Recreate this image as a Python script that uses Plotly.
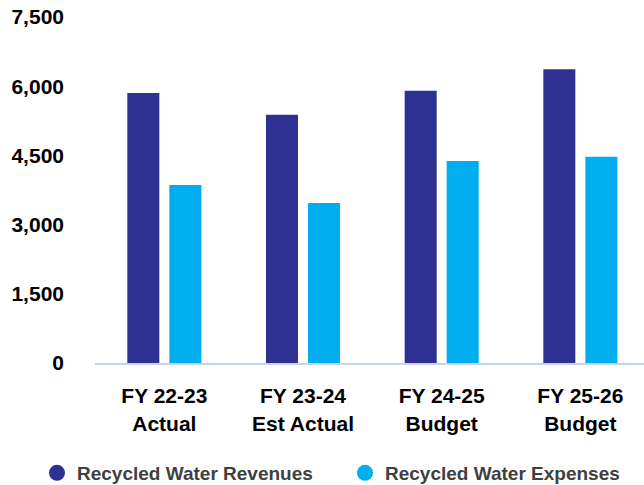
import plotly.graph_objects as go

# Fiscal-year categories (two-line tick labels)
categories = ["FY 22-23<br>Actual", "FY 23-24<br>Est Actual", "FY 24-25<br>Budget", "FY 25-26<br>Budget"]

# Recycled water figures ($ thousands)
revenues = [5850, 5380, 5900, 6370]
expenses = [3860, 3470, 4380, 4470]

y_ticks = [0, 1500, 3000, 4500, 6000, 7500]

NAVY = "#2E3192"
CYAN = "#00AEEF"
FONT = "Liberation Sans, Arial, sans-serif"

fig = go.Figure()

fig.add_trace(go.Bar(
    x=categories, y=revenues, name="Recycled Water Revenues",
    marker=dict(color=NAVY, line=dict(width=0)), showlegend=False,
))
fig.add_trace(go.Bar(
    x=categories, y=expenses, name="Recycled Water Expenses",
    marker=dict(color=CYAN, line=dict(width=0)), showlegend=False,
))

# Circle markers for the legend entries, one legend box per series
for name, color, leg in [("Recycled Water Revenues", NAVY, "legend"),
                         ("Recycled Water Expenses", CYAN, "legend2")]:
    fig.add_trace(go.Scatter(
        x=[None], y=[None], mode="markers", name=name, legend=leg,
        marker=dict(symbol="circle", size=18, color=color),
    ))

legend_style = dict(
    orientation="h",
    xref="container", xanchor="left",
    yref="container", y=12 / 485, yanchor="middle",
    font=dict(family=FONT, size=19, color="#404040", weight="bold"),
    itemsizing="trace", bgcolor="rgba(0,0,0,0)",
)

fig.update_layout(
    width=644, height=485,
    margin=dict(l=95, r=0, t=17, b=122, pad=0, autoexpand=False),
    paper_bgcolor="white", plot_bgcolor="white",
    barmode="group", bargap=0.394, bargroupgap=0.238,
    font=dict(family=FONT, color="#000000"),
    showlegend=True,
    legend=dict(x=37 / 644, **legend_style),
    legend2=dict(x=345 / 644, **legend_style),
)

fig.update_xaxes(
    range=[-0.5, 3.459],
    showgrid=False, zeroline=False,
    showline=True, linecolor="#C9D3E8", linewidth=2,
    ticks="", ticklabelstandoff=13,
    tickfont=dict(family=FONT, size=21, color="#000000", weight="bold"),
)

fig.update_yaxes(
    range=[0, 7500],
    tickvals=y_ticks, ticktext=[f"{v:,}" for v in y_ticks],
    showgrid=False, zeroline=False, showline=False,
    ticks="", ticklabelstandoff=30,
    tickfont=dict(family=FONT, size=21, color="#000000", weight="bold"),
)

fig.write_html("out.html")
